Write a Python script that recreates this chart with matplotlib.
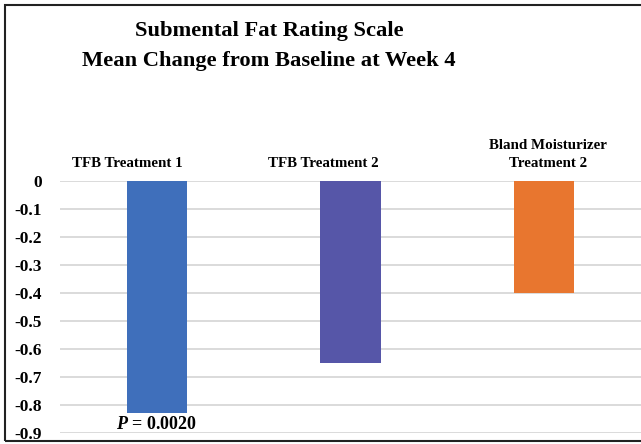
import matplotlib
matplotlib.use("Agg")
import matplotlib.pyplot as plt
from matplotlib.patches import Rectangle
from matplotlib.transforms import blended_transform_factory

categories = ["TFB Treatment 1", "TFB Treatment 2", "Bland Moisturizer\nTreatment 2"]
values = [-0.83, -0.65, -0.40]
colors = ["#3f6fbb", "#5656a8", "#e8762f"]
yticks = [0, -0.1, -0.2, -0.3, -0.4, -0.5, -0.6, -0.7, -0.8, -0.9]
ytick_labels = ["0", "-0.1", "-0.2", "-0.3", "-0.4", "-0.5", "-0.6", "-0.7", "-0.8", "-0.9"]
p_label = "0.0020"

plt.rcParams['font.family'] = 'Liberation Serif'
plt.rcParams['mathtext.fontset'] = 'custom'
plt.rcParams['mathtext.it'] = 'Liberation Serif:italic:bold'
plt.rcParams['mathtext.rm'] = 'Liberation Serif:bold'

fig = plt.figure(figsize=(6.41, 4.44), dpi=100)
ax = fig.add_axes([60 / 641, 1 - 433 / 444, 581 / 641, 252 / 444])

x = range(len(categories))
ax.bar(x, values, width=0.31, color=colors, zorder=3)

ax.set_xlim(-0.5, 2.5)
ax.set_ylim(-0.9, 0)
ax.set_yticks(yticks)
ax.set_yticklabels(ytick_labels, fontsize=12.5, fontweight='bold')
ax.yaxis.grid(True, color='#d4d4d4', linewidth=1.2, zorder=0)
ax.tick_params(axis='y', length=0, pad=13)
ax.set_xticks([])

for s in ax.spines.values():
    s.set_visible(False)

# category headers sit above the plot, slightly off the bar centres
label_shift = [-0.15, -0.14, 0.02]
trans = blended_transform_factory(ax.transData, ax.transAxes)
for i, lab in enumerate(categories):
    ax.text(i + label_shift[i], 1.045, lab, transform=trans, ha='center', va='bottom',
            fontsize=10.8, fontweight='bold', linespacing=1.45)

ax.text(0, values[0] - 0.01, r"$P$ = " + p_label, ha='center', va='top',
        fontsize=13, fontweight='bold')

fig.text(269 / 641, 1 - 31 / 444, "Submental Fat Rating Scale", ha='center', va='center',
         fontsize=16.2, fontweight='bold')
fig.text(269 / 641, 1 - 61 / 444, "Mean Change from Baseline at Week 4", ha='center', va='center',
         fontsize=16.2, fontweight='bold')

# frame around the whole chart
fig.patches.append(Rectangle((5 / 641, 3 / 444), 1.0, 436 / 444, transform=fig.transFigure,
                             fill=False, edgecolor='#222222', linewidth=1.5))

fig.savefig("out.png", dpi=100)
